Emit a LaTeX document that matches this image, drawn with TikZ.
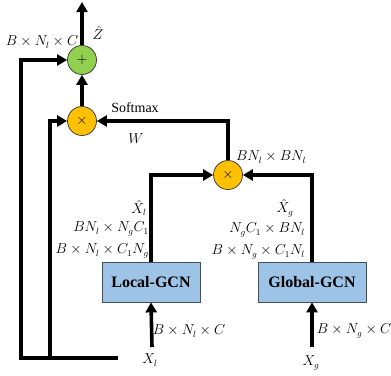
\documentclass[tikz,border=0pt]{standalone}
\usepackage{fontspec}
\setmainfont{Liberation Serif}
\usetikzlibrary{arrows.meta}
\usetikzlibrary{shapes}

\definecolor{gcnfill}{RGB}{157,195,230}
\definecolor{gcnedge}{RGB}{65,80,95}
\definecolor{addgreen}{RGB}{146,208,80}
\definecolor{mulorange}{RGB}{255,192,0}

\tikzset{
  conn/.style={line width=3.6pt, line join=miter, -{Triangle[length=10pt,width=11pt]}},
  gcnbox/.style={draw=gcnedge, fill=gcnfill, line width=0.8pt, minimum height=40pt,
    font=\fontsize{16}{18}\selectfont\bfseries},
  opnode/.style={circle, draw=black!80, line width=0.7pt, minimum size=29pt, inner sep=0pt,
    font=\fontsize{15}{15}\selectfont},
  dimlabel/.style={font=\fontsize{13.5}{15}\selectfont, inner sep=1pt}
}

\begin{document}
\begin{tikzpicture}[x=1pt,y=-1pt]

  % canvas (pixel coordinates, y pointing down)
  \useasboundingbox (0,0) rectangle (391,375);

  % --- operators ---
  \node[opnode, fill=addgreen] (plus) at (82,60) {$+$};
  \node[opnode, fill=mulorange] (mulA) at (82,121) {$\times$};
  \node[opnode, fill=mulorange] (mulB) at (228,175) {$\times$};

  % --- GCN blocks ---
  \node[gcnbox, minimum width=98pt] (local) at (151,282) {Local-GCN};
  \node[gcnbox, minimum width=108pt] (global) at (312,282) {Global-GCN};

  % --- inputs / output ---
  \node[dimlabel] (xl) at (150,360) {$X_l$};
  \node[dimlabel] (xg) at (311,363) {$X_g$};
  \coordinate (zout) at (82,2);
  \coordinate (tap) at (118,358);
  \coordinate (tapin) at (50,358);

  % --- connectors ---
  \draw[conn] (plus) -- (zout);
  \draw[conn] (mulA) -- (plus);
  \draw[conn] (tap) -| ([xshift=-46pt]plus.west) -- (plus.west);
  \draw[conn] (tapin) |- (mulA.west);
  \draw[conn] (mulB.north) |- (mulA.east);
  \draw[conn] (local.north) |- (mulB.west);
  \draw[conn] (global.north) |- (mulB.east);
  \draw[conn] (152,347) -- (local.south);
  \draw[conn] (312,347) -- (global.south);

  % --- labels ---
  \node[dimlabel] at (98,33) {$\hat{Z}$};
  \node[dimlabel] at (42,42) {$B\times N_l\times C$};
  \node[dimlabel, font=\fontsize{14}{16}\selectfont] at (135,108) {Softmax};
  \node[dimlabel] at (136,139) {$W$};
  \node[dimlabel] at (271,157) {$BN_l\times BN_l$};

  \node[dimlabel] at (139,208) {$\hat{X}_l$};
  \node[dimlabel, anchor=east] at (150,229) {$BN_l\times N_gC_1$};
  \node[dimlabel, anchor=east] at (150,251) {$B\times N_l\times C_1N_g$};

  \node[dimlabel] at (285,208) {$\hat{X}_g$};
  \node[dimlabel, anchor=east] at (306,230) {$N_gC_1\times BN_l$};
  \node[dimlabel, anchor=east] at (306,252) {$B\times N_g\times C_1N_l$};

  \node[dimlabel] at (189,331) {$B\times N_l\times C$};
  \node[dimlabel] at (354,331) {$B\times N_g\times C$};

\end{tikzpicture}
\end{document}
